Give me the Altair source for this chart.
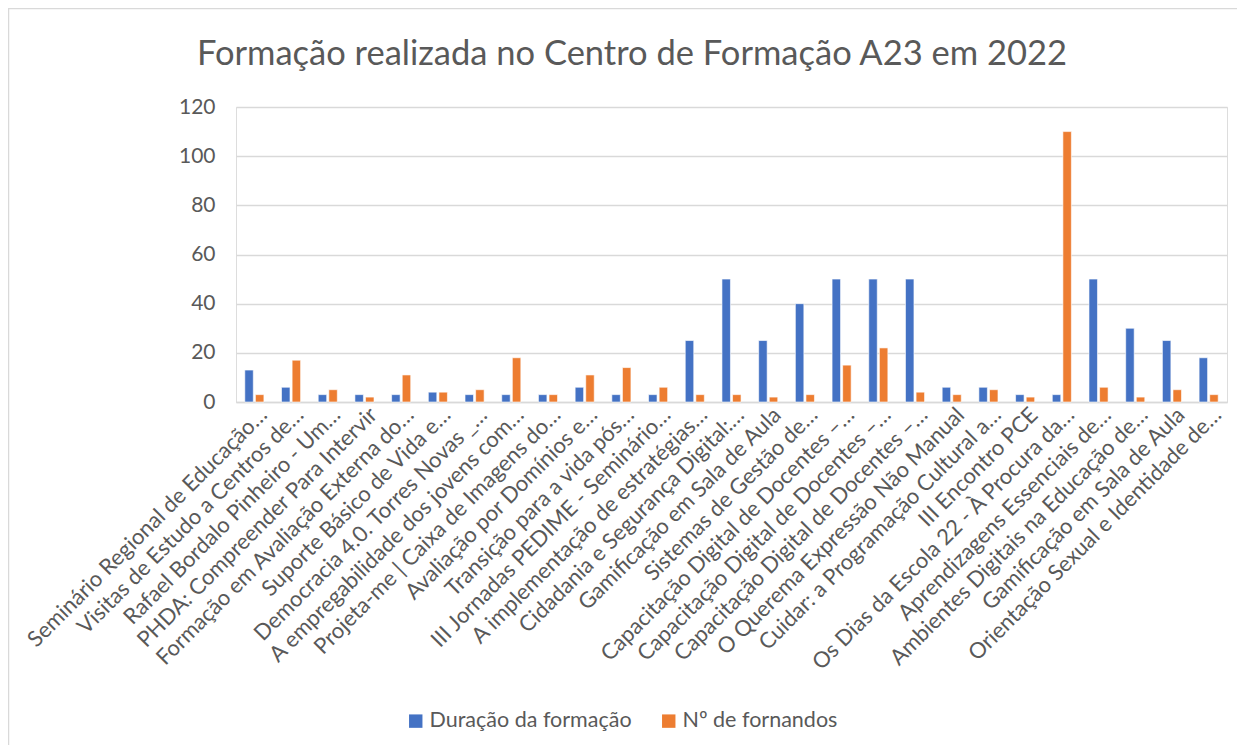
import altair as alt
import pandas as pd

categories = [
    "Seminário Regional de Educação…",
    "Visitas de Estudo a Centros de…",
    "Rafael Bordalo Pinheiro - Um…",
    "PHDA: Compreender Para Intervir",
    "Formação em Avaliação Externa do…",
    "Suporte Básico de Vida e…",
    "Democracia 4.0. Torres Novas _…",
    "A empregabilidade dos jovens com…",
    "Projeta-me | Caixa de Imagens do…",
    "Avaliação por Domínios e…",
    "Transição para a vida pós…",
    "III Jornadas PEDIME - Seminário…",
    "A implementação de estratégias…",
    "Cidadania e Segurança Digital:…",
    "Gamificação em Sala de Aula",
    "Sistemas de Gestão de…",
    "Capacitação Digital de Docentes –…",
    "Capacitação Digital de Docentes –…",
    "Capacitação Digital de Docentes –…",
    "O Querema Expressão Não Manual",
    "Cuidar: a Programação Cultural a…",
    "III Encontro PCE",
    "Os Dias da Escola 22 - À Procura da…",
    "Aprendizagens Essenciais de…",
    "Ambientes Digitais na Educação de…",
    "Gamificação em Sala de Aula",
    "Orientação Sexual e Identidade de…",
]
duracao = [13, 6, 3, 3, 3, 4, 3, 3, 3, 6, 3, 3, 25, 50, 25, 40, 50, 50, 50, 6, 6, 3, 3, 50, 30, 25, 18]
formandos = [3, 17, 5, 2, 11, 4, 5, 18, 3, 11, 14, 6, 3, 3, 2, 3, 15, 22, 4, 3, 5, 2, 110, 6, 2, 5, 3]
series_names = ["Duração da formação", "Nº de fornandos"]
series_colors = ["#4472C4", "#ED7D31"]
y_ticks = [0, 20, 40, 60, 80, 100, 120]
title_text = "Formação realizada no Centro de Formação A23 em 2022"

# make duplicate category names unique with invisible zero-width spaces
seen = {}
keys = []
for c in categories:
    n = seen.get(c, 0)
    keys.append(c + "\u200b" * n)
    seen[c] = n + 1

rows = []
for k, d, f in zip(keys, duracao, formandos):
    rows.append({"cat": k, "serie": series_names[0], "valor": d})
    rows.append({"cat": k, "serie": series_names[1], "valor": f})
df = pd.DataFrame(rows)

FONT = "Lato"
GREY = "#595959"

bars = alt.Chart(df).mark_bar(stroke="white", strokeWidth=0.6).encode(
    x=alt.X("cat:N", sort=keys, title=None,
            scale=alt.Scale(paddingInner=0.48, paddingOuter=0.24),
            axis=alt.Axis(labelAngle=-45, labelAlign="right", labelBaseline="middle",
                          labelFontSize=22, labelColor=GREY, labelFont=FONT,
                          labelLimit=0, labelPadding=9, labelOffset=9, ticks=False,
                          domainColor="#D9D9D9", domainWidth=1.5, labelOverlap=False)),
    xOffset=alt.XOffset("serie:N", sort=series_names, scale=alt.Scale(paddingInner=0.2)),
    y=alt.Y("valor:Q", title=None,
            scale=alt.Scale(domain=[0, 120], nice=False),
            axis=alt.Axis(values=y_ticks, labelFontSize=21, labelColor=GREY, labelFont=FONT,
                          domain=False, ticks=False, labelPadding=21,
                          gridColor="#D9D9D9", gridWidth=1.5)),
    color=alt.Color("serie:N", sort=series_names,
                    scale=alt.Scale(domain=series_names, range=series_colors),
                    legend=alt.Legend(title=None, orient="none", direction="horizontal",
                                      legendX=169, legendY=603, symbolType="square",
                                      symbolSize=180, symbolStrokeWidth=0, labelLimit=0,
                                      labelFontSize=21.5, labelColor=GREY, labelFont=FONT,
                                      columnPadding=26, labelOffset=3)),
)

frame = alt.Chart(pd.DataFrame({"a": [0]})).mark_rect(
    fillOpacity=0, stroke="#D9D9D9", strokeWidth=1.5, clip=False
).encode(
    x=alt.value(-227.5), x2=alt.value(1020), y=alt.value(-98.5), y2=alt.value(700)
)

title = alt.Chart(pd.DataFrame({"t": [title_text]})).mark_text(
    font=FONT, fontSize=34.5, color=GREY, align="center", baseline="alphabetic"
).encode(
    text="t:N", x=alt.value(396), y=alt.value(-42)
)

chart = alt.layer(frame, bars, title).properties(
    width=991, height=295,
    autosize=alt.AutoSizeParams(type="none"),
    padding={"left": 228, "top": 99, "right": 10, "bottom": 343},
).configure_view(stroke=None).configure(background="white")

chart.save("out.html", embed_options={"renderer": "svg", "actions": False})
